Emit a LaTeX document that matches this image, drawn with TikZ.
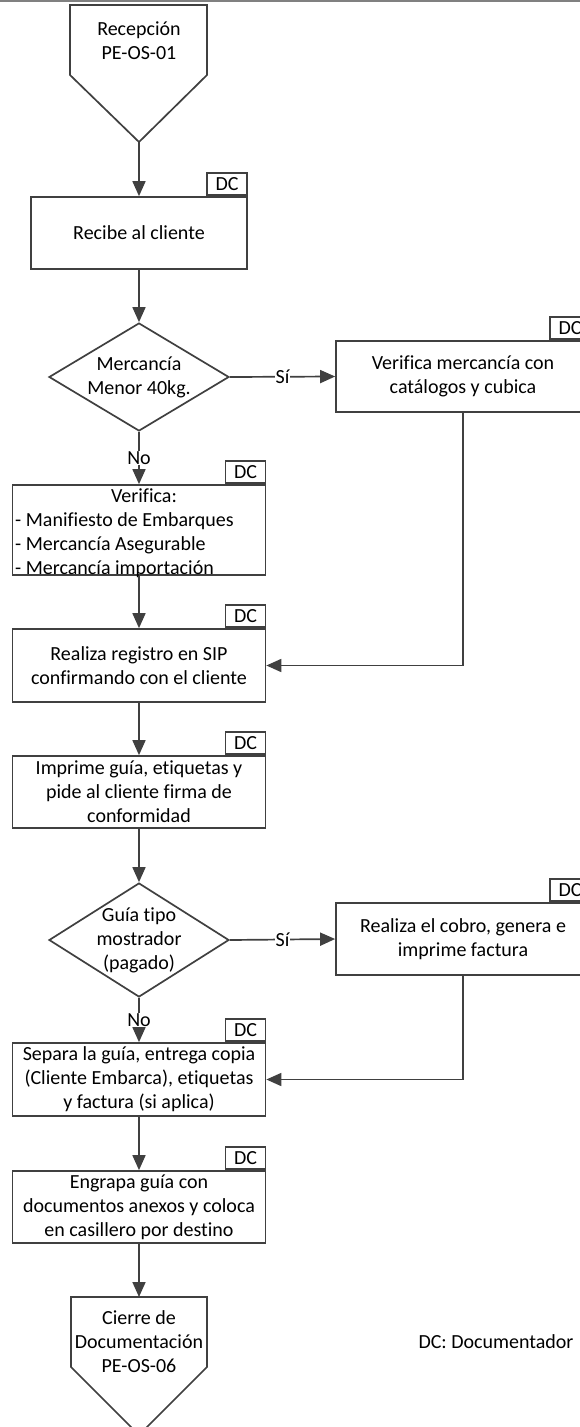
\documentclass[tikz,border=0pt]{standalone}
\usepackage{fontspec}
\setmainfont{Carlito}[Ligatures=NoCommon]
\usetikzlibrary{arrows.meta,shapes.geometric}
\definecolor{lc}{HTML}{404040}
\definecolor{bordergray}{HTML}{808080}
\newcommand{\fs}{\fontsize{20}{24}\selectfont}
\begin{document}
\begin{tikzpicture}[x=1pt,y=-1pt,
  line/.style={draw=lc, line width=1.7pt},
  arr/.style={line, -{Triangle[length=15pt,width=13pt]}},
  box/.style={line, fill=white, rectangle, inner sep=0pt, align=center, font=\fs, text=black, minimum width=253pt},
  tag/.style={line, fill=white, rectangle, minimum width=40pt, minimum height=22pt, inner sep=0pt, font=\fs, anchor=south east},
  dia/.style={line, fill=white, diamond, inner sep=0pt, minimum width=180pt},
  txt/.style={inner sep=0pt, align=center, font=\fs, text=black},
  lbl/.style={fill=white, inner sep=1pt, font=\fs, text=black}
]
\useasboundingbox (0,0) rectangle (580,1427);
\fill[white] (0,0) rectangle (580,1427);
\draw[draw=bordergray, line width=1.5pt] (0,0.75) -- (580,0.75);

% top off-page connector
\draw[line] (70,5) -- (207,5) -- (207,75) -- (139,142) coordinate (pin1tip) -- (70,75) -- cycle;
\node[txt] (pin1) at (139,41) {Recepción\\PE-OS-01};

% Recibe al cliente
\node[box, minimum width=216pt, minimum height=72pt] (recibe) at (139,233) {Recibe al cliente};
\node[tag] (tag1) at (recibe.north east) {DC};

% decision 1
\node[dia, minimum height=108pt] (d1) at (139,377) {};
\node[txt] (d1t) at (139,377) {Mercancía\\Menor 40kg.};

% Verifica mercancía con catálogos
\node[box, minimum width=254pt, minimum height=71pt] (vm) at (463,376.5) {Verifica mercancía con\\catálogos y cubica};
\node[tag] (tag2) at (vm.north east) {DC};

% Verifica list
\node[box, minimum height=90pt] (verif) at (139,530) {};
\node[tag] (tag3) at (verif.north east) {DC};
\node[txt, anchor=base] (v1) at (144,502) {Verifica:};
\node[txt, anchor=base west] (v2) at (15,526) {- Manifiesto de Embarques};
\node[txt, anchor=base west] (v3) at (15,550) {- Mercancía Asegurable};
\node[txt, anchor=base west] (v4) at (15,574) {- Mercancía importación};

% Realiza registro
\node[box, minimum height=73pt] (realiza) at (139,665.5) {Realiza registro en SIP\\confirmando con el cliente};
\node[tag] (tag4) at (realiza.north east) {DC};

% Imprime guía
\node[box, minimum height=72pt] (imprime) at (139,792) {Imprime guía, etiquetas y\\pide al cliente firma de\\conformidad};
\node[tag] (tag5) at (imprime.north east) {DC};

% decision 2
\node[dia, minimum height=114pt] (d2) at (139,940) {};
\node[txt] (d2t) at (139,940) {Guía tipo\\mostrador\\(pagado)};

% Realiza el cobro
\node[box, minimum width=254pt, minimum height=72pt] (cobro) at (463,939) {Realiza el cobro, genera e\\imprime factura};
\node[tag] (tag6) at (cobro.north east) {DC};

% Separa la guía
\node[box, minimum height=73pt] (separa) at (139,1079.5) {Separa la guía, entrega copia\\(Cliente Embarca), etiquetas\\y factura (si aplica)};
\node[tag] (tag7) at (separa.north east) {DC};

% Engrapa
\node[box, minimum height=72pt] (engrapa) at (139,1207) {Engrapa guía con\\documentos anexos y coloca\\en casillero por destino};
\node[tag] (tag8) at (engrapa.north east) {DC};

% bottom off-page connector
\draw[line] (71,1297) -- (207,1297) -- (207,1367) -- (139,1435) -- (71,1367) -- cycle;
\coordinate (pin2top) at (139,1297);
\node[txt] (pin2) at (139,1342) {Cierre de\\Documentación\\PE-OS-06};

% legend
\node[txt] (legend) at (496,1342) {DC: Documentador};

% connectors
\draw[arr] (pin1tip) -- (recibe.north);
\draw[arr] (recibe.south) -- (d1.north);
\draw[arr] (d1.east) -- node[lbl] (si1) {Sí} (vm.west);
\draw[arr] (d1.south) -- node[lbl] (no1) {No} (verif.north);
\draw[arr] (verif.south) -- (realiza.north);
\draw[arr] (vm.south) |- (realiza.east);
\draw[arr] (realiza.south) -- (imprime.north);
\draw[arr] (imprime.south) -- (d2.north);
\draw[arr] (d2.east) -- node[lbl] (si2) {Sí} (cobro.west);
\draw[arr] (d2.south) -- node[lbl] (no2) {No} (separa.north);
\draw[arr] (cobro.south) |- (separa.east);
\draw[arr] (separa.south) -- (engrapa.north);
\draw[arr] (engrapa.south) -- (pin2top);
\end{tikzpicture}
\end{document}
